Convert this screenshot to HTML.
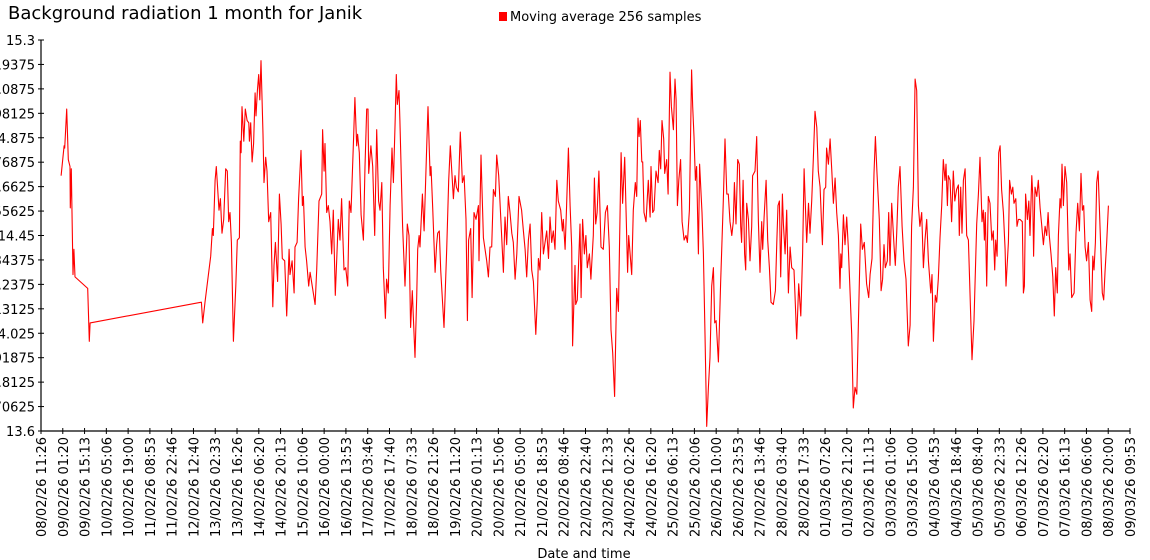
<!DOCTYPE html>
<html><head><meta charset="utf-8"><style>
body{margin:0;background:#fff;width:1150px;height:560px;overflow:hidden}
svg{display:block;font-family:"DejaVu Sans","Liberation Sans",sans-serif}
</style></head><body>
<svg id="chart" width="1150" height="560" viewBox="0 0 1150 560">
<text x="8" y="19" font-size="18" fill="#000">Background radiation 1 month for Janik</text>
<rect x="499" y="12" width="8" height="9" fill="#ff0000"/>
<text x="510" y="21" font-size="13" fill="#000">Moving average 256 samples</text>
<text x="584" y="558" font-size="13" text-anchor="middle" fill="#000">Date and time</text>
<g id="yaxis"></g>
<g id="xaxis"></g>
<path id="series" fill="none" stroke="#ff0000" stroke-width="1.1" stroke-linejoin="round"/>
</svg>
<script>
const yTickLabels=["15.3","15.19375","15.0875","14.98125","14.875","14.76875","14.6625","14.55625","14.45","14.34375","14.2375","14.13125","14.025","13.91875","13.8125","13.70625","13.6"];
const xTickLabels=["08/02/26 11:26","09/02/26 01:20","09/02/26 15:13","10/02/26 05:06","10/02/26 19:00","11/02/26 08:53","11/02/26 22:46","12/02/26 12:40","13/02/26 02:33","13/02/26 16:26","14/02/26 06:20","14/02/26 20:13","15/02/26 10:06","16/02/26 00:00","16/02/26 13:53","17/02/26 03:46","17/02/26 17:40","18/02/26 07:33","18/02/26 21:26","19/02/26 11:20","20/02/26 01:13","20/02/26 15:06","21/02/26 05:00","21/02/26 18:53","22/02/26 08:46","22/02/26 22:40","23/02/26 12:33","24/02/26 02:26","24/02/26 16:20","25/02/26 06:13","25/02/26 20:06","26/02/26 10:00","26/02/26 23:53","27/02/26 13:46","28/02/26 03:40","28/02/26 17:33","01/03/26 07:26","01/03/26 21:20","02/03/26 11:13","03/03/26 01:06","03/03/26 15:00","04/03/26 04:53","04/03/26 18:46","05/03/26 08:40","05/03/26 22:33","06/03/26 12:26","07/03/26 02:20","07/03/26 16:13","08/03/26 06:06","08/03/26 20:00","09/03/26 09:53"];
// hours since 08/02/26 11:26
const timesH=[12.8,14.7,15.1,16.4,17.4,18.5,18.7,19.3,20.4,21.0,21.7,29.8,30.8,31.3,102.3,103.1,104.6,108.2,109.3,109.9,111.0,111.8,113.5,114.4,115.4,116.5,117.8,118.8,119.7,120.5,121.4,122.7,124.2,125.2,126.5,127.1,127.6,128.2,129.3,130.3,131.4,132.5,132.9,133.7,134.6,135.6,136.5,137.1,138.0,138.8,139.5,140.3,141.6,142.2,143.3,144.1,145.2,146.5,147.8,148.6,149.5,150.9,152.0,153.1,153.9,155.4,156.7,158.2,158.8,160.1,161.4,162.0,163.3,164.3,165.8,166.7,167.3,168.4,169.4,170.7,171.6,174.8,175.8,177.3,
179.0,179.6,180.5,181.1,182.2,183.2,184.3,185.4,186.4,187.7,189.6,190.7,191.7,193.2,194.3,195.6,196.6,197.7,199.2,200.2,201.3,201.9,203.0,204.1,205.6,206.6,207.7,208.5,209.0,209.8,210.4,211.5,212.8,214.1,215.3,216.2,217.3,218.3,219.6,220.4,221.5,222.6,223.8,224.7,225.8,226.6,227.2,228.3,228.9,230.6,232.1,233.6,234.7,235.7,236.8,237.4,238.5,239.6,240.2,241.1,241.7,243.2,244.3,246.0,246.8,248.1,248.7,249.8,251.3,252.3,253.0,254.0,254.9,257.0,258.7,260.0,261.0,263.0,264.0,264.9,266.1,267.4,268.7,269.8,271.0,271.9,272.7,274.0,274.9,276.1,277.4,278.9,279.3,280.6,282.1,284.2,285.3,286.3,287.4,288.5,289.8,290.6,291.9,293.6,294.9,295.9,297.0,298.0,299.1,300.2,301.2,302.3,303.4,304.8,306.5,307.6,308.7,309.7,310.8,311.9,312.9,314.0,315.5,316.5,317.2,318.2,319.3,320.4,322.5,323.6,324.6,325.7,326.7,327.8,328.9,329.9,331.4,332.5,333.1,334.2,335.2,336.3,337.4,
338.4,339.0,340.5,341.0,342.0,343.7,344.4,345.4,346.5,347.5,348.4,349.7,350.7,352.2,352.9,353.7,354.6,355.8,357.1,358.6,359.9,361.2,362.4,363.5,364.6,365.8,367.1,368.2,369.2,369.9,370.9,372.2,374.1,374.8,376.7,377.7,379.0,379.9,380.7,381.4,382.2,383.1,383.7,384.5,385.8,387.3,388.4,389.0,390.1,390.9,392.2,393.5,394.3,395.2,396.0,397.1,397.7,399.0,399.9,401.1,402.0,403.3,404.3,405.0,405.8,406.7,407.9,408.8,410.1,411.3,412.2,413.5,414.9,415.6,416.4,417.3,418.1,419.2,420.0,421.5,422.4,423.4,424.5,425.6,426.6,427.7,428.8,429.6,430.5,432.0,433.4,435.1,436.2,437.3,438.3,439.4,440.5,441.5,442.2,443.2,444.3,445.3,446.2,446.8,447.7,448.7,449.4,450.0,451.1,452.1,453.2,453.8,455.3,456.4,457.5,458.5,459.6,460.2,461.1,462.4,463.4,464.5,465.5,467.0,468.3,469.2,470.0,470.9,471.7,472.8,473.4,474.5,475.5,476.6,477.7,478.7,480.2,481.9,483.2,484.5,485.7,486.6,487.6,488.3,489.4,490.4,491.5,492.5,493.6,494.7,495.7,496.8,498.3,499.3,500.4,501.0,502.1,503.2,504.2,505.3,506.4,507.4,508.5,
509.5,510.0,510.6,511.7,512.7,513.8,514.8,517.0,518.0,519.1,520.2,521.2,522.7,523.8,525.0,526.5,527.8,528.7,529.9,531.2,532.1,533.1,534.6,535.7,536.7,537.6,538.4,539.7,540.6,541.4,542.5,544.0,544.8,545.7,546.7,547.8,549.1,550.3,551.6,553.1,554.2,555.2,556.3,557.4,558.4,559.5,560.5,561.6,562.7,563.7,564.8,565.9,567.4,568.2,569.1,570.3,571.2,572.2,573.3,574.4,575.4,576.5,577.1,578.0,578.6,579.7,580.7,581.8,582.7,583.9,585.0,585.6,586.5,587.3,588.2,589.3,590.3,591.4,592.4,593.7,595.0,596.7,597.8,598.8,600.1,600.9,601.6,602.2,603.1,604.1,605.2,606.3,607.3,608.2,608.8,609.7,610.7,611.6,612.6,613.7,614.8,615.4,616.9,617.7,618.8,619.7,620.5,621.6,622.4,623.3,624.3,625.8,626.5,627.1,627.9,629.0,629.9,630.7,631.8,632.4,633.0,633.9,635.0,636.0,637.1,638.1,639.2,640.3,641.3,642.2,643.0,644.1,645.2,646.2,647.1,648.1,648.8,649.8,650.5,651.1,652.0,653.0,654.1,655.4,656.2,657.3,658.8,660.0,661.1,662.2,663.2,664.1,664.9,665.8,666.8,667.9,669.0,670.0,670.7,671.5,672.4,673.2,674.1,674.9,675.8,676.8,677.7,678.5,679.6,680.7];
const values=[14.71,14.84,14.83,15.0,14.78,14.75,14.57,14.74,14.28,14.39,14.27,14.22,13.99,14.07,14.16,14.07,14.16,14.36,14.48,14.45,14.69,14.75,14.56,14.61,14.46,14.52,14.74,14.73,14.51,14.55,14.42,13.99,14.23,14.43,14.44,14.86,14.81,15.01,14.86,15.0,14.95,14.94,14.86,14.94,14.77,14.85,15.07,14.97,15.08,15.15,15.04,15.21,14.89,14.68,14.79,14.73,14.51,14.55,14.14,14.32,14.42,14.25,14.63,14.5,14.35,14.34,14.1,14.39,14.28,14.34,14.2,14.4,14.42,14.61,14.82,14.58,14.62,14.4,14.34,14.23,14.29,14.15,14.3,14.6,
14.63,14.91,14.73,14.85,14.55,14.58,14.51,14.37,14.56,14.19,14.52,14.43,14.61,14.3,14.31,14.23,14.6,14.55,14.85,15.05,14.84,14.89,14.81,14.54,14.43,14.75,15.0,15.0,14.72,14.79,14.84,14.75,14.45,14.91,14.6,14.56,14.68,14.31,14.09,14.26,14.2,14.58,14.83,14.68,14.94,15.15,15.02,15.08,14.95,14.49,14.23,14.5,14.45,14.05,14.21,14.1,13.92,14.18,14.39,14.45,14.4,14.63,14.47,14.85,15.01,14.71,14.75,14.57,14.29,14.41,14.46,14.47,14.3,14.05,14.39,14.69,14.84,14.61,14.71,14.66,14.64,14.9,14.68,14.71,14.52,14.08,14.43,14.48,14.18,14.55,14.52,14.58,14.34,14.8,14.44,14.34,14.27,14.4,14.4,14.65,14.62,14.8,14.71,14.47,14.29,14.53,14.41,14.62,14.55,14.46,14.42,14.26,14.37,14.62,14.56,14.47,14.39,14.27,14.43,14.5,14.3,14.25,14.02,14.17,14.35,14.3,14.55,14.37,14.47,14.35,14.53,14.42,14.47,14.39,14.69,14.6,14.56,14.47,14.52,14.39,14.58,14.83,14.58,
14.4,13.97,14.32,14.15,14.17,14.5,14.18,14.52,14.37,14.45,14.31,14.37,14.26,14.45,14.7,14.5,14.55,14.73,14.4,14.39,14.55,14.58,14.4,14.04,13.94,13.75,14.22,14.12,14.53,14.81,14.59,14.79,14.29,14.45,14.28,14.56,14.68,14.62,14.96,14.88,14.95,14.77,14.77,14.55,14.51,14.69,14.53,14.75,14.55,14.56,14.73,14.68,14.82,14.74,14.95,14.87,14.72,14.78,14.63,15.16,15.01,14.91,15.13,15.04,14.58,14.69,14.78,14.51,14.43,14.45,14.42,14.56,15.17,15.01,14.88,14.69,14.75,14.37,14.76,14.55,14.37,14.02,13.62,13.79,13.92,14.23,14.31,14.07,14.08,13.9,14.24,14.6,14.87,14.63,14.63,14.51,14.45,14.51,14.68,14.5,14.78,14.76,14.49,14.42,14.69,14.37,14.3,14.59,14.52,14.34,14.49,14.71,14.73,14.88,14.51,14.29,14.51,14.39,14.53,14.69,14.43,14.31,14.16,14.15,14.21,14.42,14.58,14.6,14.27,14.63,14.5,14.37,14.56,14.2,14.4,14.31,14.3,14.0,14.24,14.1,14.37,14.74,14.55,14.42,14.59,14.46,14.6,14.78,14.99,14.92,14.73,14.66,14.41,14.65,14.66,14.83,14.76,14.87,14.74,14.59,14.7,14.55,14.45,
14.22,14.37,14.31,14.54,14.41,14.53,14.4,14.02,13.7,13.79,13.76,14.05,14.5,14.39,14.42,14.24,14.18,14.28,14.35,14.72,14.88,14.72,14.52,14.21,14.26,14.41,14.31,14.34,14.55,14.32,14.59,14.4,14.32,14.46,14.66,14.75,14.49,14.34,14.26,13.97,14.06,14.49,14.66,15.13,15.08,14.58,14.49,14.55,14.31,14.43,14.52,14.34,14.2,14.28,13.99,14.19,14.16,14.26,14.44,14.58,14.78,14.69,14.76,14.58,14.71,14.69,14.51,14.73,14.6,14.65,14.67,14.45,14.66,14.46,14.69,14.74,14.45,14.43,14.2,13.91,14.08,14.5,14.63,14.79,14.51,14.56,14.43,14.55,14.23,14.62,14.59,14.43,14.47,14.3,14.43,14.36,14.81,14.84,14.65,14.55,14.39,14.23,14.42,14.69,14.63,14.66,14.59,14.61,14.49,14.52,14.52,14.51,14.2,14.23,14.63,14.52,14.6,14.45,14.71,14.63,14.36,14.66,14.62,14.69,14.57,14.5,14.41,14.49,14.45,14.55,14.45,14.37,14.27,14.1,14.31,14.2,14.45,14.61,14.57,14.76,14.58,14.75,14.68,14.3,14.37,14.18,14.2,14.46,14.59,14.47,14.72,14.56,14.58,14.4,14.34,14.42,14.17,14.12,14.36,14.3,14.42,14.68,14.73,14.58,14.39,14.2,14.17,14.29,14.42,14.58];
const yMin=13.6,yMax=15.3,tMax=694.45;
const X0=41,X1=1130,Y0=431,Y1=40;
const NS="http://www.w3.org/2000/svg";
function xScale(t){return X0+(t/tMax)*(X1-X0);}
function yScale(v){return Y0-(v-yMin)/(yMax-yMin)*(Y0-Y1);}
const yax=document.getElementById('yaxis'),xax=document.getElementById('xaxis');
function mk(tag,attrs,parent){const e=document.createElementNS(NS,tag);for(const k in attrs)e.setAttribute(k,attrs[k]);parent.appendChild(e);return e;}
let l=mk('line',{x1:X0,y1:Y1,x2:X0,y2:Y0,stroke:'#000','stroke-width':1.2},yax);


l=mk('line',{x1:X0,y1:Y0,x2:X1,y2:Y0,stroke:'#000','stroke-width':1.2},xax);


yTickLabels.forEach((lab,i)=>{
  const v=yMax-i*(yMax-yMin)/(yTickLabels.length-1);
  const y=yScale(v);
  const tk=mk('line',{x1:X0-3,y1:y,x2:X0+3,y2:y,stroke:'#000'},yax);
  
  
  const t=mk('text',{x:X0-6,y:y+5,'font-size':13,'text-anchor':'end',fill:'#000'},yax);
  t.textContent=lab;
  
  
});
xTickLabels.forEach((lab,i)=>{
  const x=X0+i*(X1-X0)/(xTickLabels.length-1);
  const tk=mk('line',{x1:x,y1:Y0-3,x2:x,y2:Y0+3,stroke:'#000'},xax);
  
  
  const t=mk('text',{x:0,y:0,'font-size':13,'text-anchor':'end',fill:'#000',transform:`translate(${x+5},${Y0+6}) rotate(-90)`},xax);
  t.textContent=lab;
  
  
});
let d='';
timesH.forEach((t,i)=>{d+=(i?'L':'M')+xScale(t).toFixed(1)+' '+yScale(values[i]).toFixed(1);});
document.getElementById('series').setAttribute('d',d);
</script>
</body></html>
